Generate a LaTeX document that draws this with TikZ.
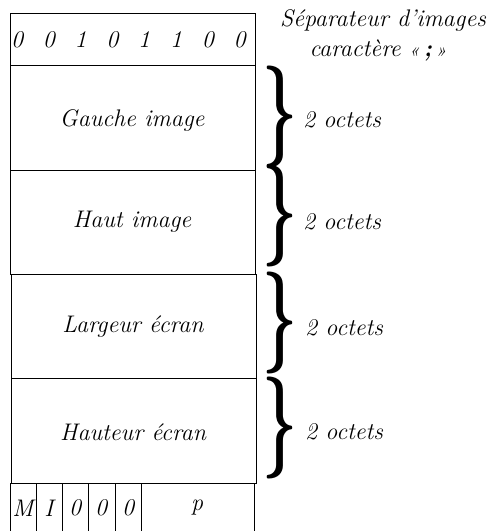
\documentclass[tikz,border=0pt]{standalone}
\usepackage{tikz}
\usepackage{graphicx}

\tikzset{
	champ/.style={font=\large\itshape},
	octets/.style={right,font=\large\itshape},
	accol/.style={right,inner sep=0pt}
}
\newcommand{\accolade}{\resizebox*{17.5pt}{51pt}{\boldmath$\}$}}

\begin{document}
\begin{tikzpicture}[x=0.5pt,y=-0.5pt]
		\useasboundingbox (0,0) rectangle (494,531);
		% separateur
		\draw (10,13) rectangle (255,65);
		\foreach \b [count=\i from 0] in {0,0,1,0,1,1,0,0}
			\node[champ] at ({17+31.8*\i},40) (bit\i) {\b};
		\node[champ] at (383,20) (sep) {Séparateur d'images};
		\node[champ] at (378,50) (car) {caractère {\small«}\,\textbf{;}\,{\small»}};
		% champs de 2 octets
		\draw (10,65) rectangle (255,170);
		\draw (10,170) rectangle (255,274);
		\draw (11,274) rectangle (256,378);
		\draw (11,378) rectangle (256,483);
		\node[champ] at (132,120) (gauche) {Gauche image};
		\node[champ] at (132,222) (haut) {Haut image};
		\node[champ] at (133,327) (largeur) {Largeur écran};
		\node[champ] at (133,432) (hauteur) {Hauteur écran};
		\node[accol] at (262,117) (acc1) {\accolade};
		\node[accol] at (262,216) (acc2) {\accolade};
		\node[accol] at (262,323) (acc3) {\accolade};
		\node[accol] at (262,428) (acc4) {\accolade};
		\node[octets] at (296,120) (oct1) {2 octets};
		\node[octets] at (296,222) (oct2) {2 octets};
		\node[octets] at (298,328) (oct3) {2 octets};
		\node[octets] at (298,432) (oct4) {2 octets};
		% drapeaux
		\draw (10,531) -- (10,483) -- (254,483) -- (254,531);
		\foreach \x in {36,62,88,115,141}
			\draw (\x,483) -- (\x,531);
		\node[champ] at (23,508) (m) {M};
		\node[champ] at (49,508) (i) {I};
		\node[champ] at (75,508) (z1) {0};
		\node[champ] at (101,508) (z2) {0};
		\node[champ] at (128,508) (z3) {0};
		\node[champ] at (197,508) (p) {p};
	\end{tikzpicture}
\end{document}
